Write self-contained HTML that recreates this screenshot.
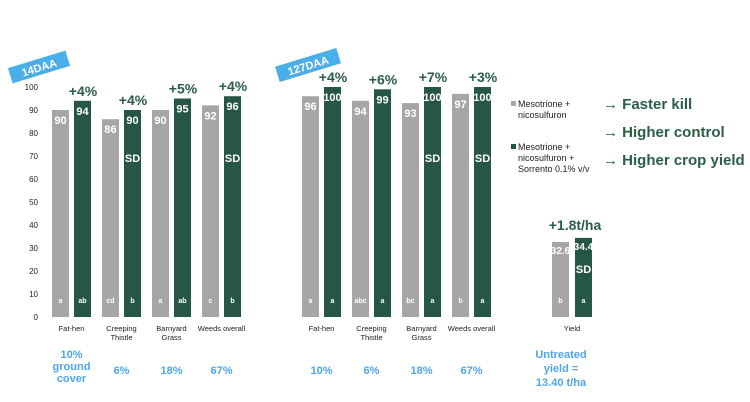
<!DOCTYPE html>
<html><head><meta charset="utf-8"><style>
html,body{margin:0;padding:0;background:#fff}
svg{display:block;font-family:"Liberation Sans",Arial,sans-serif}
</style></head><body>
<svg id="c" width="750" height="402" viewBox="0 0 750 402" xmlns="http://www.w3.org/2000/svg">
<g transform="translate(39,67) rotate(-17)">
<rect x="-30" y="-8" width="60" height="16" fill="#4aaee8"/>
<text x="0" y="4.5" text-anchor="middle" font-size="11" font-weight="bold" fill="#fff">14DAA</text></g>
<g transform="translate(308,65) rotate(-17)">
<rect x="-32" y="-8" width="64" height="16" fill="#4aaee8"/>
<text x="0" y="4.5" text-anchor="middle" font-size="11" font-weight="bold" fill="#fff">127DAA</text></g>
<g>
<rect x="511" y="101" width="5" height="5" fill="#a6a6a6"/>
<text font-size="9" fill="#222"><tspan x="518" y="107">Mesotrione +</tspan><tspan x="518" y="118">nicosulfuron</tspan></text>
<rect x="511" y="144" width="5" height="5" fill="#265746"/>
<text font-size="9" fill="#222"><tspan x="518" y="150">Mesotrione +</tspan><tspan x="518" y="161">nicosulfuron +</tspan><tspan x="518" y="172">Sorrento 0.1% v/v</tspan></text>
</g>
<g font-size="15" font-weight="bold" fill="#2a5e47">
<text x="603" y="109">→ Faster kill</text>
<text x="603" y="137">→ Higher control</text>
<text x="603" y="165">→ Higher crop yield</text>
</g>
<text x="561" y="376" text-anchor="middle" font-size="11" font-weight="bold" fill="#4da6f0"><tspan x="561" y="358">Untreated</tspan><tspan x="561" y="372">yield =</tspan><tspan x="561" y="386">13.40 t/ha</tspan></text>
</svg>
<script>
const categories=[["Fat-hen"],["Creeping","Thistle"],["Barnyard","Grass"],["Weeds overall"]];
const gray14=[90,86,90,92];
const green14=[94,90,95,96];
const letGray14=["a","cd","a","c"];
const letGreen14=["ab","b","ab","b"];
const sd14=[false,true,false,true];
const gain14=["+4%","+4%","+5%","+4%"];
const gray127=[96,94,93,97];
const green127=[100,99,100,100];
const letGray127=["a","abc","bc","b"];
const letGreen127=["a","a","a","a"];
const sd127=[false,false,true,true];
const gain127=["+4%","+6%","+7%","+3%"];
const cover=["10%","6%","18%","67%"];
const yTicks=[0,10,20,30,40,50,60,70,80,90,100];
const yieldGray=32.6, yieldGreen=34.4, yieldGain="+1.8t/ha";
const GRAY="#a6a6a6",GREEN="#265746";
const svg=document.getElementById('c');
const NS="http://www.w3.org/2000/svg";
const y0=317,yScale=2.3;
const Y=v=>y0-v*yScale;
function el(tag,attrs,txt){const e=document.createElementNS(NS,tag);for(const k in attrs)e.setAttribute(k,attrs[k]);if(txt!==undefined)e.textContent=txt;svg.appendChild(e);return e;}
// y axis
yTicks.forEach(t=>{
 const e=el('text',{x:38,y:Y(t)+3,'text-anchor':'end','font-size':8,fill:'#222'},t);
 
 
});
function bar(x,v,color,name){
 const r=el('rect',{x:x,y:Y(v),width:17,height:v*yScale,fill:color});
 
 
}
function label(x,y,t,size,fill,name,weight){
 const e=el('text',{x:x,y:y,'text-anchor':'middle','font-size':size,'font-weight':weight||'bold',fill:fill},t);
 
 
 return e;
}
function panel(x0,gray,green,lg,lgr,sd,gain,pfx,showCoverLong){
 categories.forEach((c,i)=>{
  const gx=x0+i*50, grx=gx+22, cx=gx+19.5;
  bar(gx,gray[i],GRAY,pfx+'-bar-gray-'+i);
  bar(grx,green[i],GREEN,pfx+'-bar-green-'+i);
  label(gx+8.5,Y(gray[i])+14,gray[i],11,'#fff',pfx+'-value-gray-'+i);
  label(grx+8.5,Y(green[i])+14,green[i],11,'#fff',pfx+'-value-green-'+i);
  label(gx+8.5,y0-14,lg[i],7,'#fff',pfx+'-letter-gray-'+i);
  label(grx+8.5,y0-14,lgr[i],7,'#fff',pfx+'-letter-green-'+i);
  if(sd[i])label(grx+8.5,162,'SD',11,'#fff',pfx+'-sd-'+i);
  label(grx+9,Y(green[i])-5,gain[i],14,'#2a5e47',pfx+'-gain-'+i);
  c.forEach((ln,j)=>label(cx,331+j*9,ln,7.5,'#222',pfx+'-category-'+i+'-'+j,'normal'));
  if(i===0&&showCoverLong){
   const t=el('text',{x:cx,'text-anchor':'middle','font-size':11,'font-weight':'bold',fill:'#4da6f0'});
   
   
   ['10%','ground','cover'].forEach((s,k)=>{const ts=document.createElementNS(NS,'tspan');ts.setAttribute('x',cx);ts.setAttribute('y',358+k*12);ts.textContent=s;t.appendChild(ts);});
  } else label(cx,374,cover[i],11,'#4da6f0',pfx+'-cover-'+i);
 });
}
panel(52,gray14,green14,letGray14,letGreen14,sd14,gain14,'daa14',true);
panel(302,gray127,green127,letGray127,letGreen127,sd127,gain127,'daa127',false);
// yield
bar(552,yieldGray,GRAY,'yield-bar-gray');
bar(575,yieldGreen,GREEN,'yield-bar-green');
label(560.5,Y(yieldGray)+12,yieldGray,10,'#fff','yield-value-gray');
label(583.5,Y(yieldGreen)+12,yieldGreen,10,'#fff','yield-value-green');
label(583.5,273,'SD',11,'#fff','yield-sd');
label(560.5,y0-14,'b',7,'#fff','yield-letter-gray');
label(583.5,y0-14,'a',7,'#fff','yield-letter-green');
label(575,Y(yieldGreen)-8,yieldGain,14,'#2a5e47','yield-gain');
label(572,331,'Yield',7.5,'#222','yield-category','normal');
</script>
</body></html>
